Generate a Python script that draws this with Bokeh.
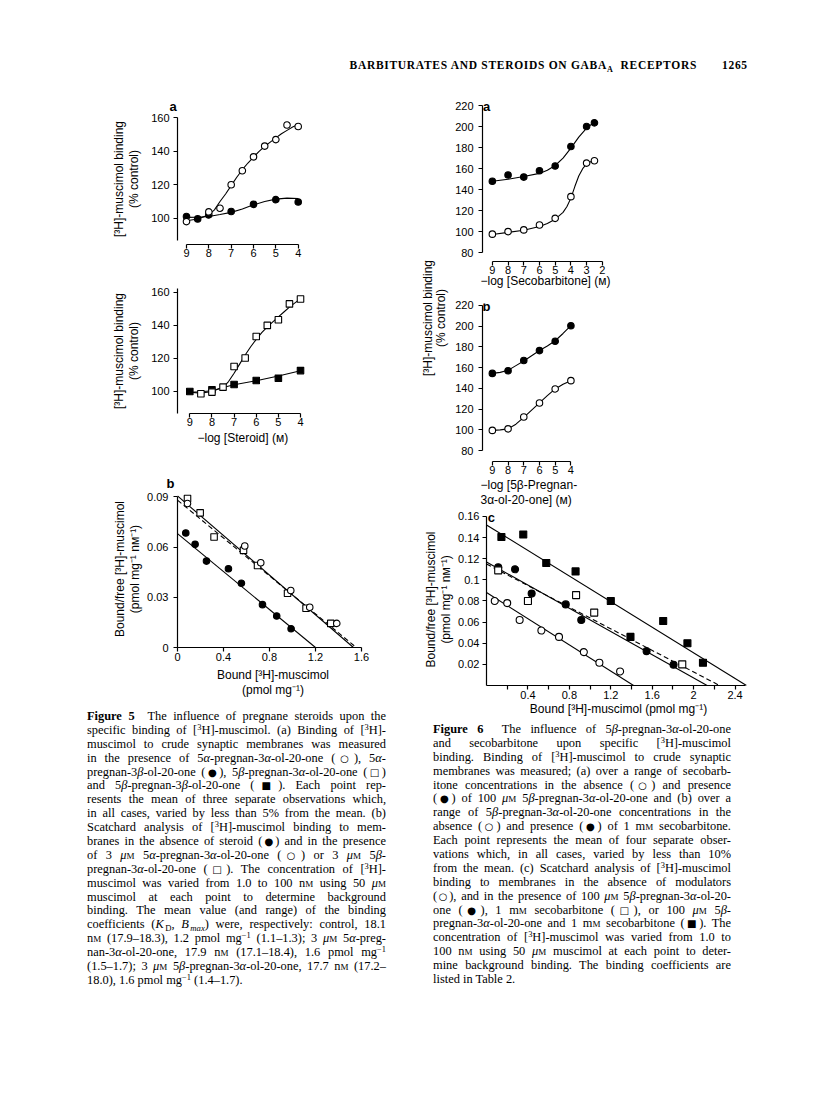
from bokeh.plotting import figure
from bokeh.models import Range1d, FixedTicker, Label, Div
from bokeh.layouts import column, row
from bokeh.embed import file_html
from bokeh.resources import INLINE

SANS = "Liberation Sans"

# ---------------- Figure 5 (a), upper: 5alpha steroids ----------------
f5a_x_ticks = [9, 8, 7, 6, 5, 4]
f5a_y_ticks = [100, 120, 140, 160]
f5a_open_x = [9, 8, 7.5, 7, 6.5, 6, 5.5, 5, 4.5, 4]
f5a_open_y = [98.0, 103.8, 106.0, 120.0, 128.4, 136.7, 143.1, 147.0, 155.7, 154.8]
f5a_fill_x = [9, 8.5, 8, 7, 6, 5, 4]
f5a_fill_y = [101.0, 99.6, 102.0, 104.0, 108.3, 111.1, 109.7]
f5a_open_fit_x = [9, 8.5, 8, 7.75, 7.5, 7.25, 7, 6.75, 6.5, 6.25, 6, 5.75, 5.5, 5.25, 5, 4.75, 4.5, 4.25, 4]
f5a_open_fit_y = [98.5, 99.5, 102.0, 105.0, 110.0, 114.5, 119.5, 124.5, 129.0, 133.0, 136.5, 140.0, 143.0, 145.5, 148.0, 150.5, 152.5, 154.5, 156.0]
f5a_fill_fit_x = [9, 8.5, 8, 7.5, 7, 6.5, 6, 5.5, 5, 4.5, 4]
f5a_fill_fit_y = [100.5, 100.6, 101.0, 102.2, 103.5, 105.5, 108.0, 110.0, 111.4, 112.0, 111.8]

# ---------------- Figure 5 (a), lower: 5beta steroids ----------------
f5c_osq_x = [8.5, 8, 7.5, 7, 6.5, 6, 5.5, 5, 4.5, 4]
f5c_osq_y = [98.6, 99.6, 102.6, 115.1, 120.2, 133.2, 139.9, 143.3, 152.9, 155.9]
f5c_fsq_x = [9, 8, 7, 6, 5, 4]
f5c_fsq_y = [100.0, 101.0, 104.2, 106.6, 108.0, 112.6]
f5c_open_fit_x = [9, 8.5, 8, 7.5, 7.25, 7, 6.75, 6.5, 6.25, 6, 5.75, 5.5, 5.25, 5, 4.75, 4.5, 4.25, 4]
f5c_open_fit_y = [99.5, 99.0, 100.0, 102.5, 106.0, 111.0, 116.5, 122.0, 127.0, 131.5, 135.5, 139.0, 142.0, 145.0, 148.0, 151.0, 153.5, 156.0]
f5c_fill_fit_x = [9, 8.5, 8, 7.5, 7, 6, 5, 4]
f5c_fill_fit_y = [99.5, 99.8, 100.4, 102.4, 104.0, 106.5, 109.3, 112.5]

# ---------------- Figure 5 (b): Scatchard ----------------
f5b_x_ticks = [0, 0.4, 0.8, 1.2, 1.6]
f5b_y_ticks = [0, 0.03, 0.06, 0.09]
f5b_ctrl_x = [0.072, 0.153, 0.252, 0.443, 0.556, 0.739, 0.863, 0.988]
f5b_ctrl_y = [0.0684, 0.0616, 0.0516, 0.0470, 0.0384, 0.0256, 0.0188, 0.0112]
f5b_aa_x = [0.087, 0.585, 0.724, 0.985, 1.150, 1.385]
f5b_aa_y = [0.0860, 0.0606, 0.0506, 0.0340, 0.0240, 0.0144]
f5b_ba_x = [0.087, 0.197, 0.318, 0.574, 0.696, 0.957, 1.118, 1.333]
f5b_ba_y = [0.0890, 0.0804, 0.0660, 0.0580, 0.0490, 0.0324, 0.0234, 0.0144]
f5b_ctrl_fit_x = [0, 1.20]
f5b_ctrl_fit_y = [0.0680, 0]
f5b_aa_fit_x = [0, 1.53]
f5b_aa_fit_y = [0.0905, 0]
f5b_ba_fit_x = [0, 1.555]
f5b_ba_fit_y = [0.0880, 0]

# ---------------- Figure 6 (a): secobarbitone ----------------
f6a_x_ticks = [9, 8, 7, 6, 5, 4, 3, 2]
f6_y_ticks = [80, 100, 120, 140, 160, 180, 200, 220]
f6a_fill_x = [9, 8, 7, 6, 5, 4, 3, 2.5]
f6a_fill_y = [148.0, 154.0, 152.0, 158.0, 162.5, 181.0, 200.0, 203.5]
f6a_open_x = [9, 8, 7, 6, 5, 4, 3, 2.5]
f6a_open_y = [97.8, 100.2, 101.8, 106.5, 112.8, 133.4, 165.3, 167.5]
f6a_fill_fit_x = [9, 8, 7, 6, 5.5, 5, 4.5, 4, 3.5, 3, 2.75, 2.5]
f6a_fill_fit_y = [148.0, 150.0, 152.5, 155.5, 158.5, 163.0, 170.0, 179.5, 190.0, 198.5, 201.5, 203.5]
f6a_open_fit_x = [9, 8, 7, 6, 5.5, 5, 4.5, 4.25, 4, 3.75, 3.5, 3.25, 3, 2.75, 2.5]
f6a_open_fit_y = [97.5, 99.5, 101.5, 105.0, 108.0, 112.0, 118.5, 124.0, 132.0, 143.0, 153.0, 160.0, 164.5, 166.5, 167.5]

# ---------------- Figure 6 (b): 5beta-pregnan-3alpha-ol-20-one ----------------
f6b_x_ticks = [9, 8, 7, 6, 5, 4]
f6b_open_x = [9, 8, 7, 6, 5, 4]
f6b_open_y = [99.5, 101.0, 112.5, 126.0, 139.5, 147.5]
f6b_fill_x = [9, 8, 7, 6, 5, 4]
f6b_fill_y = [154.5, 157.0, 167.0, 176.5, 185.5, 200.5]
f6b_open_fit_x = [9, 8.5, 8, 7.5, 7, 6.5, 6, 5.5, 5, 4.5, 4]
f6b_open_fit_y = [99.5, 100.0, 101.0, 105.5, 112.0, 119.0, 126.0, 133.0, 139.5, 144.0, 147.5]
f6b_fill_fit_x = [9, 8.5, 8, 7.5, 7, 6.5, 6, 5.5, 5, 4.5, 4]
f6b_fill_fit_y = [154.5, 155.5, 157.5, 162.0, 166.5, 171.5, 176.5, 181.0, 186.0, 193.0, 200.5]

# ---------------- Figure 6 (c): Scatchard ----------------
f6c_x_ticks = [0.4, 0.8, 1.2, 1.6, 2.0, 2.4]
f6c_x_minor = [0.2, 0.6, 1.0, 1.4, 1.8, 2.2]
f6c_y_ticks = [0.02, 0.04, 0.06, 0.08, 0.10, 0.12, 0.14, 0.16]
f6c_ctrl_x = [0.08, 0.20, 0.32, 0.53, 0.70, 0.94, 1.09, 1.29]
f6c_ctrl_y = [0.080, 0.078, 0.062, 0.052, 0.046, 0.0316, 0.0215, 0.0133]
f6c_ster_x = [0.113, 0.276, 0.436, 0.765, 0.915, 1.546, 1.806]
f6c_ster_y = [0.112, 0.110, 0.087, 0.0768, 0.062, 0.0325, 0.0196]
f6c_seco_x = [0.113, 0.40, 0.865, 1.04, 1.89]
f6c_seco_y = [0.109, 0.080, 0.0856, 0.069, 0.020]
f6c_both_x = [0.144, 0.355, 0.577, 0.86, 1.20, 1.39, 1.706, 1.94, 2.09]
f6c_both_y = [0.1406, 0.143, 0.116, 0.108, 0.080, 0.046, 0.061, 0.040, 0.0215]
f6c_ctrl_fit_x = [0, 1.42]
f6c_ctrl_fit_y = [0.088, 0]
f6c_ster_fit_x = [0, 2.13]
f6c_ster_fit_y = [0.117, 0]
f6c_seco_fit_x = [0, 2.25]
f6c_seco_fit_y = [0.115, 0]
f6c_both_fit_x = [0, 2.51]
f6c_both_fit_y = [0.152, 0]

BIND_LABEL = "[\u00b3H]-muscimol binding\n(% control)"
SC_LABEL_Y = "Bound/free [\u00b3H]-muscimol\n(pmol mg\u207b\u00b9 n\u1d0d\u207b\u00b9)"


def style_axis(ax, label_standoff, tick_standoff):
    ax.axis_line_color = "black"
    ax.axis_line_width = 1.2
    ax.major_tick_line_color = "black"
    ax.major_tick_line_width = 1.2
    ax.major_tick_out = 4
    ax.major_tick_in = 0
    ax.minor_tick_line_color = None
    ax.major_label_text_font = SANS
    ax.major_label_text_font_size = "11px"
    ax.major_label_text_color = "black"
    ax.major_label_standoff = tick_standoff
    ax.axis_label_text_font = SANS
    ax.axis_label_text_font_size = "12px"
    ax.axis_label_text_font_style = "normal"
    ax.axis_label_text_color = "black"
    ax.axis_label_text_line_height = 1.1
    ax.axis_label_standoff = label_standoff


def make_fig(w, h, xr, yr, left, right, top, bottom, title_loc="above"):
    p = figure(width=w, height=h, x_range=Range1d(*xr), y_range=Range1d(*yr),
               output_backend="svg", toolbar_location=None, title_location=title_loc,
               min_border_left=left, min_border_right=right,
               min_border_top=top, min_border_bottom=bottom)
    p.outline_line_color = None
    p.xgrid.visible = False
    p.ygrid.visible = False
    p.background_fill_color = "white"
    p.border_fill_color = "white"
    return p


def panel_letter(p, x, y, txt):
    p.add_layout(Label(x=x, y=y, text=txt, text_font=SANS, text_font_size="13px",
                       text_font_style="bold", text_align="center",
                       text_baseline="middle", text_color="black"))


def title_text(p, txt, offset, size="13px", style="bold"):
    p.title.text = txt
    p.title.align = "left"
    p.title.offset = offset
    p.title.standoff = 0
    p.title.text_font = SANS
    p.title.text_font_size = size
    p.title.text_font_style = style
    p.title.text_color = "black"
    p.title.text_line_height = 1.1


def pts(p, x, y, marker, filled, size=6.5):
    p.scatter(x, y, marker=marker, size=size, line_color="black", line_width=1.1,
              fill_color="black" if filled else "white")


def curve(p, x, y, dash="solid"):
    p.line(x, y, line_color="black", line_width=1.1, line_dash=dash)


# ---- Fig 5 upper (frame 177..368 shared by the left column) ----
p5a = make_fig(420, 182, (9.403, 0.853), (84.3, 162.6), 177, 52, 25, 26)
p5a.xaxis.ticker = FixedTicker(ticks=f5a_x_ticks)
p5a.yaxis.ticker = FixedTicker(ticks=f5a_y_ticks)
p5a.xaxis.bounds = (4, 9)
p5a.yaxis.bounds = (86.5, 160)
style_axis(p5a.xaxis[0], 0, 0)
style_axis(p5a.yaxis[0], 7, 4)
p5a.yaxis.axis_label = BIND_LABEL
curve(p5a, f5a_open_fit_x, f5a_open_fit_y)
curve(p5a, f5a_fill_fit_x, f5a_fill_fit_y)
pts(p5a, f5a_fill_x, f5a_fill_y, "circle", True)
pts(p5a, f5a_open_x, f5a_open_y, "circle", False)
title_text(p5a, "a", -8)

# ---- Fig 5 lower ----
p5c = make_fig(420, 177, (9.556, 0.929), (86.67, 162.2), 177, 52, 18, 34, "below")
p5c.xaxis.ticker = FixedTicker(ticks=f5a_x_ticks)
p5c.yaxis.ticker = FixedTicker(ticks=f5a_y_ticks)
p5c.xaxis.bounds = (4, 9)
style_axis(p5c.xaxis[0], 0, 0)
style_axis(p5c.yaxis[0], 7, 4)
p5c.yaxis.axis_label = BIND_LABEL
title_text(p5c, "\u2212log [Steroid] (\u1d0d)", 20, "12px", "normal")
curve(p5c, f5c_open_fit_x, f5c_open_fit_y)
curve(p5c, f5c_fill_fit_x, f5c_fill_fit_y)
pts(p5c, f5c_fsq_x, f5c_fsq_y, "square", True)
pts(p5c, f5c_osq_x, f5c_osq_y, "square", False)

# ---- Fig 5 b ----
p5b = make_fig(420, 253, (0, 1.661), (0, 0.09375), 177, 52, 43, 53)
p5b.xaxis.ticker = FixedTicker(ticks=f5b_x_ticks)
p5b.yaxis.ticker = FixedTicker(ticks=f5b_y_ticks)
p5b.xaxis.bounds = (0, 1.6)
p5b.yaxis.bounds = (0, 0.09)
p5b.xaxis.major_label_overrides = {0: "0"}
p5b.yaxis.major_label_overrides = {0: "0"}
style_axis(p5b.xaxis[0], 4, 1)
style_axis(p5b.yaxis[0], 2, 5)
p5b.yaxis.axis_label = SC_LABEL_Y
p5b.xaxis.axis_label = "Bound [\u00b3H]-muscimol\n(pmol mg\u207b\u00b9)"
curve(p5b, f5b_ctrl_fit_x, f5b_ctrl_fit_y)
curve(p5b, f5b_aa_fit_x, f5b_aa_fit_y)
curve(p5b, f5b_ba_fit_x, f5b_ba_fit_y, "5 3")
pts(p5b, f5b_ctrl_x, f5b_ctrl_y, "circle", True)
pts(p5b, f5b_ba_x, f5b_ba_y, "square", False)
pts(p5b, f5b_aa_x, f5b_aa_y, "circle", False)
title_text(p5b, "b", -11)

# ---- Fig 6 a ----
p6a = make_fig(356, 202, (9.627, 1.607), (71.8, 221.9), 28, 200, 15, 27)
p6a.xaxis.ticker = FixedTicker(ticks=f6a_x_ticks)
p6a.yaxis.ticker = FixedTicker(ticks=f6_y_ticks)
p6a.xaxis.bounds = (2, 9)
p6a.yaxis.bounds = (80, 220)
style_axis(p6a.xaxis[0], -3, 0)
style_axis(p6a.yaxis[0], 4, 5)
p6a.xaxis.axis_label = "\u2212log [Secobarbitone] (\u1d0d)"
curve(p6a, f6a_fill_fit_x, f6a_fill_fit_y)
curve(p6a, f6a_open_fit_x, f6a_open_fit_y)
pts(p6a, f6a_fill_x, f6a_fill_y, "circle", True)
pts(p6a, f6a_open_x, f6a_open_y, "circle", False)
panel_letter(p6a, 9.37, 219.5, "a")

# ---- Fig 6 b ----
p6b = make_fig(356, 217, (9.627, 1.607), (69.5, 221.92), 28, 200, 13, 45, "below")
p6b.xaxis.ticker = FixedTicker(ticks=f6b_x_ticks)
p6b.yaxis.ticker = FixedTicker(ticks=f6_y_ticks)
p6b.xaxis.bounds = (4, 9)
p6b.yaxis.bounds = (80, 220)
style_axis(p6b.xaxis[0], 0, 0)
style_axis(p6b.yaxis[0], 4, 5)
title_text(p6b, "\u2212log [5\u03b2-Pregnan-\n3\u03b1-ol-20-one] (\u1d0d)", -2, "12px", "normal")
curve(p6b, f6b_fill_fit_x, f6b_fill_fit_y)
curve(p6b, f6b_open_fit_x, f6b_open_fit_y)
pts(p6b, f6b_fill_x, f6b_fill_y, "circle", True)
pts(p6b, f6b_open_x, f6b_open_y, "circle", False)
panel_letter(p6b, 9.37, 219.0, "b")

# ---- Fig 6 c ----
p6c = make_fig(388, 215, (0, 2.549), (0, 0.16284), 59, 58, 6, 37)
p6c.xaxis.ticker = FixedTicker(ticks=f6c_x_ticks, minor_ticks=f6c_x_minor)
p6c.yaxis.ticker = FixedTicker(ticks=f6c_y_ticks)
p6c.xaxis.bounds = (0, 2.5)
p6c.yaxis.bounds = (0, 0.16)
style_axis(p6c.xaxis[0], 0, 1)
style_axis(p6c.yaxis[0], 2, 3)
p6c.xaxis.minor_tick_line_color = "black"
p6c.xaxis.minor_tick_line_width = 1.2
p6c.xaxis.minor_tick_out = 4
p6c.xaxis.minor_tick_in = 0
p6c.yaxis.axis_label = SC_LABEL_Y
p6c.xaxis.axis_label = "Bound [\u00b3H]-muscimol (pmol mg\u207b\u00b9)"
curve(p6c, f6c_ctrl_fit_x, f6c_ctrl_fit_y)
curve(p6c, f6c_ster_fit_x, f6c_ster_fit_y)
curve(p6c, f6c_seco_fit_x, f6c_seco_fit_y, "5 3")
curve(p6c, f6c_both_fit_x, f6c_both_fit_y)
pts(p6c, f6c_ctrl_x, f6c_ctrl_y, "circle", False, 7)
pts(p6c, f6c_ster_x, f6c_ster_y, "circle", True, 7)
pts(p6c, f6c_seco_x, f6c_seco_y, "square", False, 7)
pts(p6c, f6c_both_x, f6c_both_y, "square", True, 7)
panel_letter(p6c, 0.047, 0.1595, "c")

# ---------------- text blocks ----------------
M = '<span style="font-variant:small-caps">m</span>'
H3 = '[<sup style="font-size:0.68em;line-height:0;vertical-align:0.5em">3</sup>H]'
A = '<i>\u03b1</i>'
B = '<i>\u03b2</i>'
MU = '<i>\u03bc</i>'
SYM = lambda s: f"<span style=\"font-family:'DejaVu Sans',sans-serif;font-size:0.82em\">{s}</span>"
OC, FC, OS, FS = SYM("\u25cb"), SYM("\u25cf"), SYM("\u25a1"), SYM("\u25a0")
INV = '<sup style="font-size:0.68em;line-height:0;vertical-align:0.5em">\u22121</sup>'
SUB = lambda s: f'<span style="font-size:0.7em;line-height:0;margin-left:1.5px;position:relative;top:3px">{s}</span>'

cap5_lines = [
    "<b>Figure 5</b>&nbsp; The influence of pregnane steroids upon the",
    f"specific binding of {H3}-muscimol. (a) Binding of {H3}-",
    "muscimol to crude synaptic membranes was measured",
    f"in the presence of 5{A}-pregnan-3{A}-ol-20-one ({OC}), 5{A}-",
    f"pregnan-3{B}-ol-20-one ({FC}), 5{B}-pregnan-3{A}-ol-20-one ({OS})",
    f"and 5{B}-pregnan-3{B}-ol-20-one ({FS}). Each point rep-",
    "resents the mean of three separate observations which,",
    "in all cases, varied by less than 5% from the mean. (b)",
    f"Scatchard analysis of {H3}-muscimol binding to mem-",
    f"branes in the absence of steroid ({FC}) and in the presence",
    f"of 3 {MU}{M} 5{A}-pregnan-3{A}-ol-20-one ({OC}) or 3 {MU}{M} 5{B}-",
    f"pregnan-3{A}-ol-20-one ({OS}). The concentration of {H3}-",
    f"muscimol was varied from 1.0 to 100 n{M} using 50 {MU}{M}",
    "muscimol at each point to determine background",
    "binding. The mean value (and range) of the binding",
    f"coefficients (<i>K</i>{SUB('D')}, <i>B</i>{SUB('<i>max</i>')}) were, respectively: control, 18.1",
    f"n{M} (17.9\u201318.3), 1.2 pmol mg{INV} (1.1\u20131.3); 3 {MU}{M} 5{A}-preg-",
    f"nan-3{A}-ol-20-one, 17.9 n{M} (17.1\u201318.4), 1.6 pmol mg{INV}",
    f"(1.5\u20131.7); 3 {MU}{M} 5{B}-pregnan-3{A}-ol-20-one, 17.7 n{M} (17.2\u2013",
    f"18.0), 1.6 pmol mg{INV} (1.4\u20131.7).",
]

cap6_lines = [
    f"<b>Figure 6</b>&nbsp; The influence of 5{B}-pregnan-3{A}-ol-20-one",
    f"and secobarbitone upon specific {H3}-muscimol",
    f"binding. Binding of {H3}-muscimol to crude synaptic",
    "membranes was measured; (a) over a range of secobarb-",
    f"itone concentrations in the absence ({OC}) and presence",
    f"({FC}) of 100 {MU}{M} 5{B}-pregnan-3{A}-ol-20-one and (b) over a",
    f"range of 5{B}-pregnan-3{A}-ol-20-one concentrations in the",
    f"absence ({OC}) and presence ({FC}) of 1 m{M} secobarbitone.",
    "Each point represents the mean of four separate obser-",
    "vations which, in all cases, varied by less than 10%",
    f"from the mean. (c) Scatchard analysis of {H3}-muscimol",
    "binding to membranes in the absence of modulators",
    f"({OC}), and in the presence of 100 {MU}{M} 5{B}-pregnan-3{A}-ol-20-",
    f"one ({FC}), 1 m{M} secobarbitone ({OS}), or 100 {MU}{M} 5{B}-",
    f"pregnan-3{A}-ol-20-one and 1 m{M} secobarbitone ({FS}). The",
    f"concentration of {H3}-muscimol was varied from 1.0 to",
    f"100 n{M} using 50 {MU}{M} muscimol at each point to deter-",
    "mine background binding. The binding coefficients are",
    "listed in Table 2.",
]


def caption_div(lines, w, h, left, top, width):
    rows = []
    for i, ln in enumerate(lines):
        al = "left" if i == len(lines) - 1 else "justify"
        rows.append(f'<div style="text-align:{al};text-align-last:{al};height:13.9px;">{ln}</div>')
    html = (f'<div style="position:relative;width:{w}px;height:{h}px;">'
            f'<div style="position:absolute;left:{left}px;top:{top}px;width:{width}px;'
            f"font-family:'Liberation Serif',serif;font-size:12.4px;line-height:13.9px;color:#000;\">"
            + "".join(rows) + "</div></div>")
    return Div(text=html, width=w, height=h, margin=0)


header_html = (
    '<div style="position:relative;width:808px;height:88px;font-family:\'Liberation Serif\',serif;'
    'font-weight:bold;font-size:11.5px;letter-spacing:0.7px;color:#000;">'
    '<span style="position:absolute;right:111px;top:57px;white-space:nowrap;">BARBITURATES AND STEROIDS ON GABA'
    '<sub style="font-size:0.7em;line-height:0">A</sub>&nbsp; RECEPTORS</span>'
    '<span style="position:absolute;left:722px;top:57px;white-space:nowrap;">1265</span></div>'
)
header = Div(text=header_html, width=808, height=88, margin=0)

ylab_html = (
    '<div style="position:relative;width:32px;height:419px;">'
    '<div style="position:absolute;left:15px;top:230px;transform:translate(-50%,-50%) rotate(-90deg);'
    "white-space:nowrap;text-align:center;font-family:'Liberation Sans',sans-serif;font-size:12px;"
    'line-height:13.2px;color:#000;">[\u00b3H]-muscimol binding<br>(% control)</div></div>'
)
ylab6 = Div(text=ylab_html, width=32, height=419, margin=0)

cap5 = caption_div(cap5_lines, 420, 300, 87, 10, 299)
cap6 = caption_div(cap6_lines, 388, 290, 13, 1, 298)

left_col = column(p5a, p5c, p5b, cap5, spacing=0)
right_col = column(row(ylab6, column(p6a, p6b, spacing=0), spacing=0), p6c, cap6, spacing=0)
layout = column(header, row(left_col, right_col, spacing=0), spacing=0)

open("out.html", "w").write(file_html(layout, INLINE, "Figures 5 and 6"))
